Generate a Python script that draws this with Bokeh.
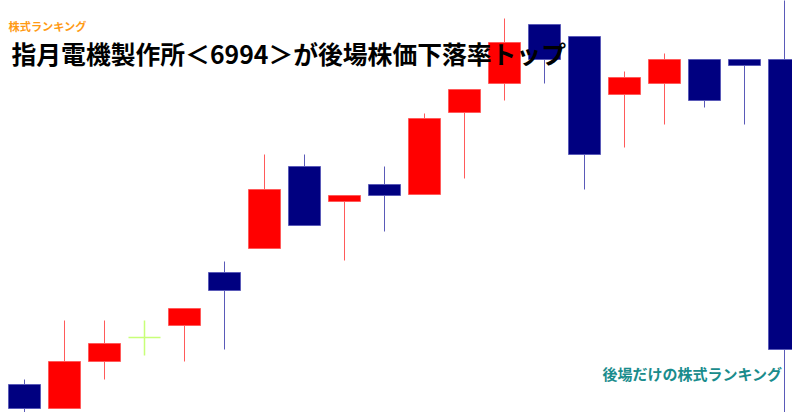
from bokeh.plotting import figure
from bokeh.models import ColumnDataSource, Range1d, Label
from bokeh.embed import file_html
from bokeh.resources import INLINE

# ---- data (price units) ----
sessions = list(range(20))
opens  = [36, 12, 59, 83, 95, 148, 172, 254, 219, 236, 226, 308, 337, 396, 384, 326, 337, 361, 361, 361]
highs  = [41, 100, 100, 100, 112, 159, 266, 266, 225, 254, 307, 331, 402, 396, 384, 349, 367, 361, 361, 430]
lows   = [-4, 12, 41, 65, 59, 71, 172, 195, 160, 189, 226, 242, 320, 337, 231, 273, 296, 313, 296, -10]
closes = [12, 59, 77, 83, 112, 130, 231, 195, 225, 225, 302, 331, 378, 361, 266, 343, 361, 320, 355, 71]

title_text = "指月電機製作所＜6994＞が後場株価下落率トップ"
brand_text = "株式ランキング"
footer_text = "後場だけの株式ランキング"

UP_FILL, UP_LINE = "#ff0000", "#ff5a5a"
DN_FILL, DN_LINE = "#000080", "#5a5ab8"
DOJI = "#c8ff78"

W, H = 792, 412
p = figure(width=W, height=H, output_backend="svg", toolbar_location=None,
           x_range=Range1d(-0.6, 19.2), y_range=Range1d(8, 420),
           min_border=0, outline_line_color=None)
p.axis.visible = False
p.grid.visible = False
p.background_fill_color = "white"
p.border_fill_color = "white"

def col(o, c):
    if c > o:
        return "up"
    if c < o:
        return "down"
    return "doji"

kinds = [col(o, c) for o, c in zip(opens, closes)]

for kind, fill, line in (("up", UP_FILL, UP_LINE), ("down", DN_FILL, DN_LINE)):
    idx = [i for i, k in enumerate(kinds) if k == kind]
    src = ColumnDataSource(dict(
        x=[sessions[i] for i in idx],
        hi=[highs[i] for i in idx],
        lo=[lows[i] for i in idx],
        top=[max(opens[i], closes[i]) for i in idx],
        bot=[min(opens[i], closes[i]) for i in idx],
    ))
    p.segment(x0="x", x1="x", y0="lo", y1="hi", source=src, line_color=line, line_width=1)
    p.vbar(x="x", width=0.8, top="top", bottom="bot", source=src,
           fill_color=fill, line_color=line, line_width=1)

didx = [i for i, k in enumerate(kinds) if k == "doji"]
dsrc = ColumnDataSource(dict(
    x=[sessions[i] for i in didx],
    xl=[sessions[i] - 0.4 for i in didx],
    xr=[sessions[i] + 0.4 for i in didx],
    o=[opens[i] for i in didx],
    hi=[highs[i] for i in didx],
    lo=[lows[i] for i in didx],
))
p.segment(x0="x", x1="x", y0="lo", y1="hi", source=dsrc, line_color=DOJI, line_width=1.5)
p.segment(x0="xl", x1="xr", y0="o", y1="o", source=dsrc, line_color=DOJI, line_width=1.5)

p.add_layout(Label(x=8, y=H - 25.5, x_units="screen", y_units="screen", text=brand_text,
                   text_font="Noto Sans CJK JP", text_font_size="11.2px", text_font_style="bold",
                   text_color="#ff9a14", text_baseline="middle", text_align="left"))
p.add_layout(Label(x=11, y=H - 52, x_units="screen", y_units="screen", text=title_text,
                   text_font="Noto Sans CJK JP", text_font_size="24.8px", text_font_style="bold",
                   text_color="#000000", text_baseline="middle", text_align="left"))
p.add_layout(Label(x=602, y=H - 373, x_units="screen", y_units="screen", text=footer_text,
                   text_font="Noto Sans CJK JP", text_font_size="15px", text_font_style="bold",
                   text_color="#1a8c8c", text_baseline="middle", text_align="left"))

open("out.html", "w").write(file_html(p, INLINE))
